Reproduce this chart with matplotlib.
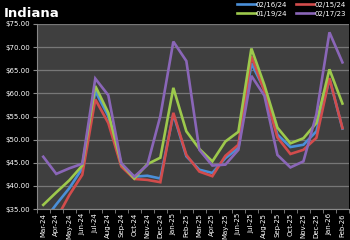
import matplotlib
matplotlib.use("Agg")
import matplotlib.pyplot as plt
import numpy as np

months = ["Mar-24", "Apr-24", "May-24", "Jun-24", "Jul-24", "Aug-24", "Sep-24", "Oct-24",
          "Nov-24", "Dec-24", "Jan-25", "Feb-25", "Mar-25", "Apr-25", "May-25", "Jun-25",
          "Jul-25", "Aug-25", "Sep-25", "Oct-25", "Nov-25", "Dec-25", "Jan-26", "Feb-26"]

s_021624 = [32.3, 36.0, 39.5, 43.8, 60.5, 55.1, 44.5, 42.0, 42.2, 41.6, 55.5, 46.4,
            43.5, 42.8, 46.0, 48.2, 66.5, 60.8, 51.1, 48.4, 48.9, 51.8, 63.2, 52.4]
s_021524 = [29.0, 32.8, 38.0, 42.4, 58.7, 53.6, 44.2, 41.5, 41.3, 40.8, 55.8, 46.7,
            43.1, 42.1, 46.5, 48.9, 68.0, 60.5, 50.5, 46.9, 47.8, 50.4, 63.3, 52.5]
s_011924 = [35.9, 38.6, 41.2, 44.4, 61.6, 55.8, 44.8, 41.6, 44.7, 46.1, 61.2, 51.8,
            48.0, 45.3, 49.6, 51.7, 69.7, 61.8, 52.6, 49.2, 50.3, 53.6, 65.2, 57.8]
s_021723 = [46.3, 42.6, 43.8, 44.8, 63.2, 59.6, 44.9, 42.0, 44.5, 55.1, 71.2, 67.0,
            47.8, 44.4, 44.6, 47.8, 63.8, 59.5, 46.7, 44.0, 45.3, 55.5, 73.2, 66.7]

labels = ["02/16/24", "02/15/24", "01/19/24", "02/17/23"]
colors = ["#4a8fd8", "#d24c4c", "#9dc94c", "#8a66b8"]
series = [s_021624, s_021524, s_011924, s_021723]

yticks = [35, 40, 45, 50, 55, 60, 65, 70, 75]

fig = plt.figure(figsize=(3.5, 2.4), dpi=100, facecolor="black")
ax = fig.add_axes([0.105, 0.129, 0.892, 0.771])
ax.set_facecolor("#3f3f3f")

x = np.arange(len(months))
handles = []
for s, c, l in zip(series, colors, labels):
    h, = ax.plot(x, s, color=c, lw=1.9, label=l, solid_joinstyle="miter")
    handles.append(h)

ax.set_xlim(-0.5, len(months) - 0.5)
ax.set_ylim(35, 75)
ax.set_yticks(yticks)
ax.set_yticklabels([f"${v:.2f}" for v in yticks])
ax.yaxis.grid(True, color="#777777", lw=0.9)
ax.set_axisbelow(True)

ax.set_xticks(x)
ax.set_xticklabels(months, rotation=90)
ax.set_xticks(np.arange(-0.5, len(months), 1.0), minor=True)
ax.tick_params(axis="x", which="major", length=0, colors="white", labelsize=5, pad=3)
ax.tick_params(axis="x", which="minor", length=3, color="#888888")
ax.tick_params(axis="y", length=3, color="#888888", labelcolor="white", labelsize=5, pad=2)

for sp in ["top", "right"]:
    ax.spines[sp].set_visible(False)
for sp in ["left", "bottom"]:
    ax.spines[sp].set_color("#888888")
    ax.spines[sp].set_linewidth(0.8)

fig.text(0.01, 0.945, "Indiana", color="white", fontsize=9.5, fontweight="bold",
         va="center", ha="left")

order = [0, 2, 1, 3]
leg = fig.legend([handles[i] for i in order], [labels[i] for i in order], ncol=2,
                 loc="upper right", bbox_to_anchor=(1.0, 1.01), frameon=False,
                 fontsize=5, handlelength=2.7, handletextpad=0.0, columnspacing=1.2,
                 labelspacing=0.45, borderaxespad=0.2)
for t in leg.get_texts():
    t.set_color("white")

fig.savefig("out.png", dpi=100, facecolor="black")
